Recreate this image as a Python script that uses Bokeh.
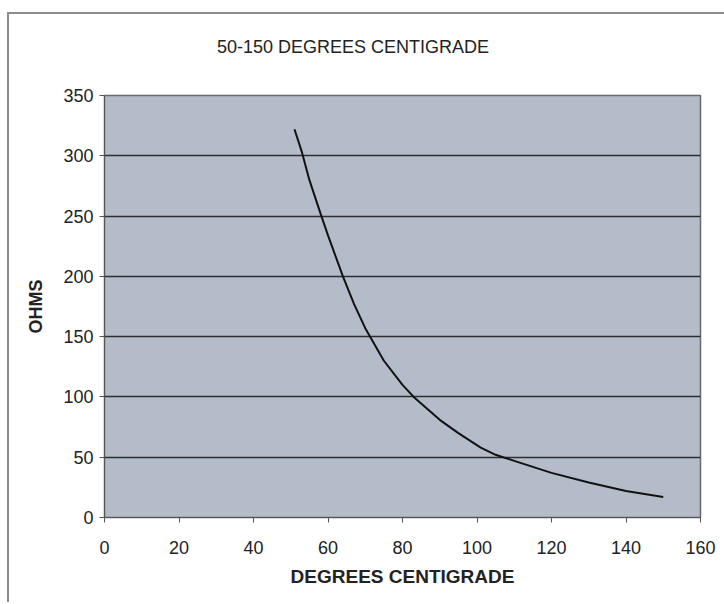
from bokeh.plotting import figure
from bokeh.models import Range1d, FixedTicker, Div
from bokeh.layouts import column
from bokeh.embed import file_html
from bokeh.resources import INLINE

title_text = "50-150 DEGREES CENTIGRADE"
x_label = "DEGREES CENTIGRADE"
y_label = "OHMS"

x_ticks = [0, 20, 40, 60, 80, 100, 120, 140, 160]
y_ticks = [0, 50, 100, 150, 200, 250, 300, 350]

temperature = [51, 53, 55, 58, 60, 64, 67, 70, 75, 80, 83, 90, 95, 101, 105, 110, 120, 130, 140, 150]
ohms = [322, 303, 280, 252, 234, 200, 177, 157, 130, 110, 100, 81, 70, 58, 52, 47, 37, 29, 22, 17]

FONT = "Liberation Sans"

title_div = Div(
    text=('<div style="position:absolute; left:203px; top:17px; white-space:nowrap; '
          'font-family:\'Liberation Sans\'; font-size:18px; line-height:22px; color:#222222;">'
          + title_text + '</div>'),
    width=713, height=40)

p = figure(width=713, height=538, output_backend="svg", toolbar_location=None,
           x_range=Range1d(0, 160), y_range=Range1d(0, 350),
           min_border_left=95, min_border_right=22, min_border_top=31, min_border_bottom=85)

p.background_fill_color = "#b5bcc9"
p.border_fill_color = "white"
p.outline_line_color = "#6a6a6a"
p.outline_line_width = 1.5

p.xgrid.visible = False
p.ygrid.ticker = FixedTicker(ticks=y_ticks)
p.ygrid.grid_line_color = "#2e2e2e"
p.ygrid.grid_line_width = 1.3

for ax, ticks in ((p.xaxis, x_ticks), (p.yaxis, y_ticks)):
    ax.ticker = FixedTicker(ticks=ticks)
    ax.major_label_text_font = FONT
    ax.major_label_text_font_size = "18px"
    ax.major_label_text_color = "#222222"
    ax.axis_label_text_font = FONT
    ax.axis_label_text_font_style = "bold"
    ax.axis_label_text_color = "#222222"
    ax.axis_line_color = "#555555"
    ax.major_tick_line_color = "#555555"
    ax.major_tick_out = 5
    ax.major_tick_in = 0
    ax.minor_tick_line_color = None

p.xaxis.axis_label = x_label
p.xaxis.axis_label_text_font_size = "19px"
p.xaxis.major_label_standoff = 18
p.xaxis.axis_label_standoff = 9

p.yaxis.axis_label = y_label
p.yaxis.axis_label_text_font_size = "18px"
p.yaxis.major_label_standoff = 6
p.yaxis.axis_label_standoff = 14

p.line(temperature, ohms, line_color="#111111", line_width=2)

layout = column(title_div, p, spacing=0)
layout.styles = {"border-left": "2px solid #8c8c8c", "border-top": "2px solid #8c8c8c",
                 "margin-top": "12px", "margin-left": "7px"}

open("out.html", "w").write(file_html(layout, INLINE))
